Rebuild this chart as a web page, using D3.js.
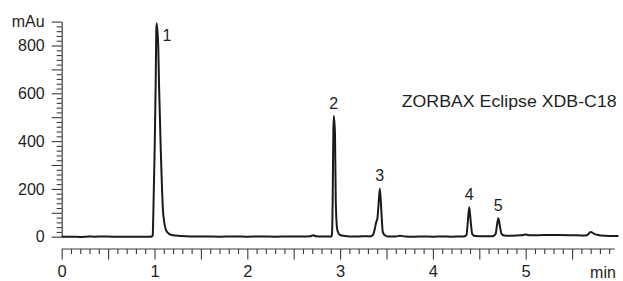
<!DOCTYPE html>
<html>
<head>
<meta charset="utf-8">
<script src="https://cdn.jsdelivr.net/npm/d3@7"></script>
<style>
  html, body { margin: 0; padding: 0; background: #fff; }
  svg { display: block; }
  text { font-family: "Liberation Sans", Arial, Helvetica, sans-serif; fill: #231f20; }
</style>
</head>
<body>
<svg id="chart" width="623" height="281"></svg>
<script>
// ---- data ----
const times = [
  0.00, 0.10, 0.20, 0.30, 0.35, 0.45, 0.55, 0.65, 0.75, 0.85, 0.95, 0.975,
  0.981, 0.987, 1.002, 1.013, 1.019, 1.024, 1.041, 1.048, 1.067, 1.095, 1.132, 1.185, 1.275,
  1.40, 1.55, 1.70, 1.85, 2.00, 2.15, 2.30, 2.45, 2.60, 2.68, 2.71, 2.74, 2.82, 2.88,
  2.907, 2.913, 2.920, 2.927, 2.932, 2.945, 2.953, 2.970, 2.999, 3.05, 3.10,
  3.20, 3.28, 3.322, 3.354, 3.376, 3.389, 3.401, 3.414, 3.428, 3.441, 3.450, 3.460, 3.484, 3.516,
  3.60, 3.645, 3.70, 3.80, 3.90, 4.00, 4.10, 4.20, 4.30,
  4.335, 4.362, 4.376, 4.392, 4.408, 4.424, 4.453, 4.55,
  4.648, 4.675, 4.691, 4.705, 4.720, 4.739, 4.766,
  4.85, 4.95, 5.00, 5.05, 5.20, 5.35, 5.50, 5.60, 5.66, 5.70, 5.74, 5.78, 5.85, 5.95, 6.00
];
const absorbance = [
  0, 0, -1, 1, 0, 1, 0, 0, 0, 0, 0, 2,
  7, 91, 371, 649, 858, 893, 788, 649, 371, 91, 21, 7, 3,
  1, 1, 0, 1, 0, 1, 0, 1, 1, 2, 6, 2, 1, 1,
  1, 14, 154, 433, 505, 433, 154, 28, 7, 3, 1,
  1, 2, 1, 7, 36, 61, 74, 133, 202, 133, 70, 20, 5, 1,
  1, 4, 1, 0, 1, 0, 1, 0, 1,
  1, 7, 61, 123, 61, 11, 3, 2,
  2, 11, 49, 77, 49, 13, 5,
  4, 6, 9, 6, 7, 7, 6, 5, 6, 20, 12, 7, 4, 3, 3
];
const peakLabels = ["1", "2", "3", "4", "5"];
const peakTimes = [1.024, 2.932, 3.428, 4.392, 4.705];
const peakHeights = [893, 505, 202, 123, 77];
const yTickLabels = [0, 200, 400, 600, 800];
const yUnitLabel = "mAu";
const xTickLabels = [0, 1, 2, 3, 4, 5];
const xUnitLabel = "min";
const columnName = "ZORBAX Eclipse XDB-C18";

// ---- layout ----
const svg = d3.select("#chart");
const x = d3.scaleLinear().domain([0, 6]).range([61.7, 618.5]);
const y = d3.scaleLinear().domain([0, 900]).range([236.7, 21.6]);
const xAxisY = 249;
const axisColor = "#3a3a3a";

// ---- Y axis ----
const yTicks = d3.range(0, 901, 20);
const yAxis = d3.axisLeft(y)
  .tickValues(yTicks)
  .tickSize(10)
  .tickPadding(7)
  .tickSizeOuter(0)
  .tickFormat(d => d === 900 ? yUnitLabel : (yTickLabels.includes(d) ? String(d) : ""));
const gy = svg.append("g").attr("transform", `translate(${x(0)},0)`).call(yAxis);
gy.select(".domain").attr("stroke", axisColor).attr("stroke-width", 1.2);
gy.selectAll(".tick line")
  .attr("stroke", axisColor).attr("stroke-width", 1.1)
  .attr("x2", d => (d % 100 === 0) ? -10 : -5);
gy.selectAll(".tick text").style("font-size", "16px").attr("fill", "#231f20");

// ---- X axis ----
const xTicks = d3.range(0, 60).map(i => i / 10);
const xAxis = d3.axisBottom(x)
  .tickValues(xTicks)
  .tickSize(10)
  .tickPadding(6)
  .tickSizeOuter(0)
  .tickFormat(d => {
    const r = Math.round(d * 10) / 10;
    return xTickLabels.includes(r) ? String(r) : "";
  });
const gx = svg.append("g").attr("transform", `translate(0,${xAxisY})`).call(xAxis);
gx.select(".domain").remove();
gx.append("line")
  .attr("x1", x(0)).attr("x2", x(5.96))
  .attr("y1", 0).attr("y2", 0)
  .attr("stroke", axisColor).attr("stroke-width", 1.2);
gx.selectAll(".tick line")
  .attr("stroke", axisColor).attr("stroke-width", 1.1)
  .attr("y2", d => (Math.round(d * 10) % 5 === 0) ? 10.5 : 5);
gx.selectAll(".tick text").style("font-size", "16.5px").attr("fill", "#231f20");

svg.append("text")
  .attr("x", 603).attr("y", 277.5)
  .attr("text-anchor", "middle")
  .style("font-size", "16px")
  .text(xUnitLabel);

// ---- chromatogram trace ----
const pts = times.map((t, i) => [t, absorbance[i]]);
const line = d3.line()
  .x(d => x(d[0]))
  .y(d => y(d[1]))
  .curve(d3.curveMonotoneX);
svg.append("path")
  .datum(pts)
  .attr("d", line)
  .attr("fill", "none")
  .attr("stroke", "#1a1a1a")
  .attr("stroke-width", 2)
  .attr("stroke-linejoin", "round");

// ---- peak labels ----
peakLabels.forEach((lab, i) => {
  const first = i === 0;
  svg.append("text")
    .attr("x", x(peakTimes[i]) + (first ? 10.3 : 0))
    .attr("y", y(peakHeights[i]) + (first ? 17.7 : -7))
    .attr("text-anchor", "middle")
    .style("font-size", "16px")
    .text(lab);
});

// ---- column name ----
svg.append("text")
  .attr("x", 401.7).attr("y", 106.7)
  .attr("textLength", 215)
  .attr("lengthAdjust", "spacingAndGlyphs")
  .style("font-size", "16.5px")
  .text(columnName);
</script>
</body>
</html>
